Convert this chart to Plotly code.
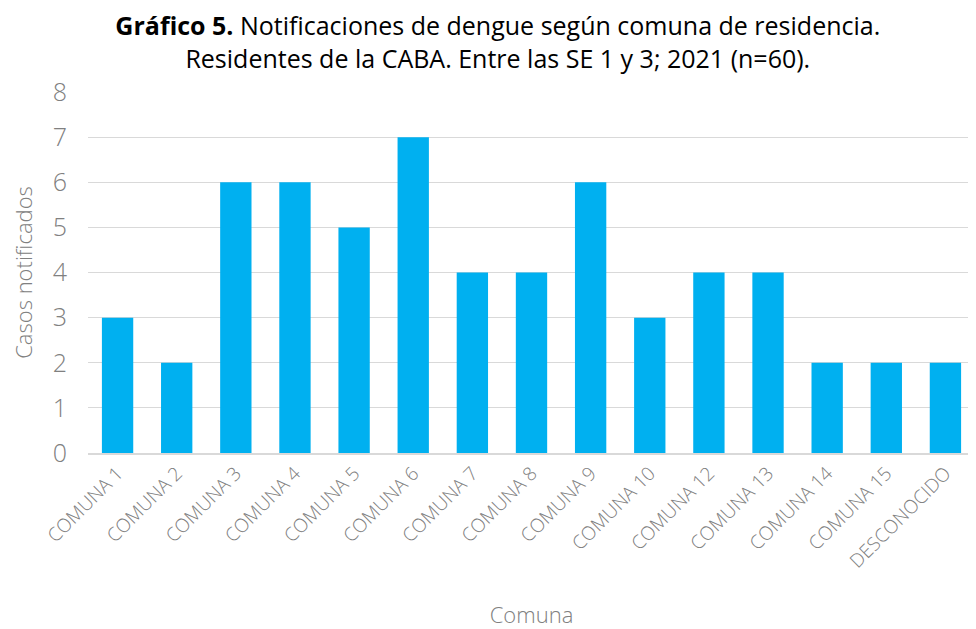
import plotly.graph_objects as go

categorias = ["COMUNA 1", "COMUNA 2", "COMUNA 3", "COMUNA 4", "COMUNA 5", "COMUNA 6",
              "COMUNA 7", "COMUNA 8", "COMUNA 9", "COMUNA 10", "COMUNA 12", "COMUNA 13",
              "COMUNA 14", "COMUNA 15", "DESCONOCIDO"]
casos = [3, 2, 6, 6, 5, 7, 4, 4, 6, 3, 4, 4, 2, 2, 2]

FONT = "'Open Sans', 'Noto Sans', sans-serif"
GRIS = "#808080"

fig = go.Figure(go.Bar(x=categorias, y=casos, marker=dict(color="#00b0f0", line=dict(width=0))))

# page body has an 8px margin, so the figure is drawn at (8, 8)
fig.update_layout(
    width=968, height=621,
    margin=dict(l=80, r=1, t=84, b=176),
    plot_bgcolor="white", paper_bgcolor="white",
    bargap=0.47,
    font=dict(family=FONT, color=GRIS),
    title=dict(
        text="<b>Gráfico 5.</b> Notificaciones de dengue según comuna de residencia.<br>Residentes de la CABA. Entre las SE 1 y 3; 2021 (n=60).",
        x=0.506, xanchor="center", xref="container",
        y=0.956, yanchor="top", yref="container",
        font=dict(family=FONT, size=25, color="#000000"),
    ),
    showlegend=False,
)

fig.update_xaxes(
    automargin=False,
    tickangle=-45, tickfont=dict(size=19, color=GRIS, weight=300),
    showline=True, linecolor="#d9d9d9", linewidth=1.5,
    title=dict(text="Comuna", font=dict(size=22, color=GRIS, weight=300), standoff=48),
    ticks="",
)
fig.update_yaxes(
    automargin=False,
    range=[0, 8], dtick=1, tickfont=dict(size=25, color=GRIS, weight=300),
    showgrid=True, gridcolor="#d9d9d9", gridwidth=1,
    zeroline=False,
    title=dict(text="Casos notificados", font=dict(size=22, color=GRIS, weight=300), standoff=18),
    ticks="", ticklabelstandoff=20,
)

fig.write_html("out.html")
